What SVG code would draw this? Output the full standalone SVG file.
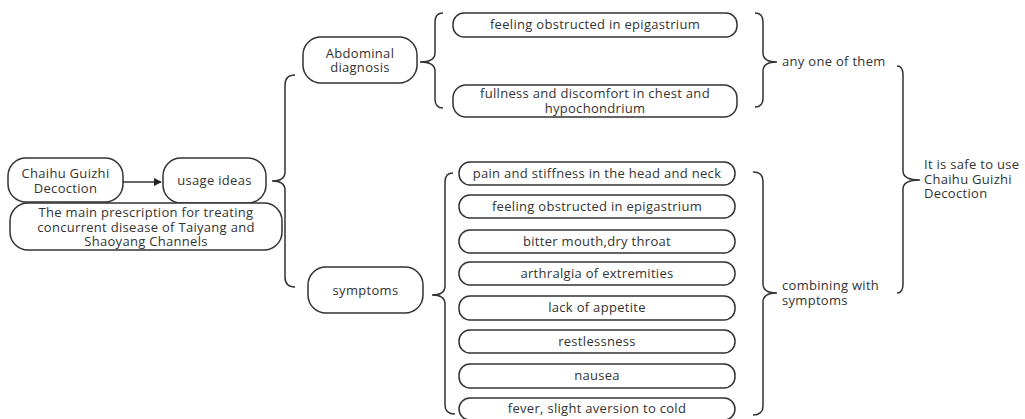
<svg xmlns="http://www.w3.org/2000/svg" width="1025" height="419" viewBox="0 0 1025 419">
<style>
.box{fill:#fff;stroke:#333;stroke-width:1.5}
.t{font-family:"Open Sans","Noto Sans",sans-serif;font-size:13px;letter-spacing:0.3px;fill:#333;text-anchor:middle}
.l{font-family:"Open Sans","Noto Sans",sans-serif;font-size:13px;letter-spacing:0.3px;fill:#333}
.br{fill:none;stroke:#333;stroke-width:1.5}
</style>
<defs>
<marker id="ah" viewBox="0 0 10 10" refX="9" refY="5" markerWidth="8" markerHeight="8" markerUnits="userSpaceOnUse" orient="auto">
<path d="M0,0 L10,5 L0,10 z" fill="#222"/>
</marker>
</defs>
<rect width="1025" height="419" fill="#fff"/>
<g id="connectors">
<line x1="123" y1="182" x2="161" y2="182" stroke="#333" stroke-width="1.5" marker-end="url(#ah)"/>
<path class="br" d="M295,75 Q285,75 285,85 L285,172 Q285,181 272,181 Q285,181 285,190 L285,277 Q285,287 295,287"/>
<path class="br" d="M443,13 Q435,13 435,22 L435,53 Q435,62 420,62 Q435,62 435,71 L435,99 Q435,108 443,108"/>
<path class="br" d="M453,173 Q445,173 445,182 L445,286 Q445,295 432,295 Q445,295 445,304 L445,405 Q445,414 455,414"/>
<path class="br" d="M755,13 Q763,13 763,22 L763,53 Q763,62 777,62 Q763,62 763,71 L763,98 Q763,107 755,107"/>
<path class="br" d="M753,172 Q763,172 763,181 L763,284 Q763,293 777,293 Q763,293 763,302 L763,406 Q763,415 753,415"/>
<path class="br" d="M897,66 Q903,66 903,75 L903,171 Q903,180 920,180 Q903,180 903,189 L903,284 Q903,293 897,293"/>
</g>
<g id="n-chaihu">
<rect class="box" x="8" y="158" width="115" height="44" rx="18"/>
<text class="t" x="65.5" y="178">Chaihu Guizhi</text>
<text class="t" x="65.5" y="193">Decoction</text>
</g>
<g id="n-usage">
<rect class="box" x="163" y="158" width="103" height="45" rx="18"/>
<text class="t" x="214.5" y="185">usage ideas</text>
</g>
<g id="n-main">
<rect class="box" x="10" y="203" width="272" height="47" rx="18"/>
<text class="t" x="146" y="217">The main prescription for treating</text>
<text class="t" x="146" y="231.5">concurrent disease of Taiyang and</text>
<text class="t" x="146" y="246">Shaoyang Channels</text>
</g>
<g id="n-abdominal">
<rect class="box" x="303" y="37" width="114" height="46" rx="18"/>
<text class="t" x="360" y="57.5">Abdominal</text>
<text class="t" x="360" y="72">diagnosis</text>
</g>
<g id="n-symptoms">
<rect class="box" x="308" y="267" width="115" height="46" rx="18"/>
<text class="t" x="365.5" y="295">symptoms</text>
</g>
<g id="n-a1">
<rect class="box" x="453" y="13" width="284" height="24" rx="11"/>
<text class="t" x="595" y="29">feeling obstructed in epigastrium</text>
</g>
<g id="n-a2">
<rect class="box" x="453" y="85" width="284" height="32" rx="13"/>
<text class="t" x="595" y="98">fullness  and discomfort in chest and</text>
<text class="t" x="595" y="112.5">hypochondrium</text>
</g>
<g id="n-s1">
<rect class="box" x="459" y="162" width="276" height="23" rx="11"/>
<text class="t" x="597" y="178">pain and stiffness in the head and neck</text>
</g>
<g id="n-s2">
<rect class="box" x="459" y="195" width="276" height="23" rx="11"/>
<text class="t" x="597" y="211">feeling obstructed in epigastrium</text>
</g>
<g id="n-s3">
<rect class="box" x="459" y="230" width="276" height="23" rx="11"/>
<text class="t" x="597" y="246">bitter mouth,dry throat</text>
</g>
<g id="n-s4">
<rect class="box" x="459" y="262" width="276" height="23" rx="11"/>
<text class="t" x="597" y="278">arthralgia of extremities</text>
</g>
<g id="n-s5">
<rect class="box" x="459" y="296" width="276" height="24" rx="11"/>
<text class="t" x="597" y="312">lack of appetite</text>
</g>
<g id="n-s6">
<rect class="box" x="459" y="330" width="276" height="23" rx="11"/>
<text class="t" x="597" y="346">restlessness</text>
</g>
<g id="n-s7">
<rect class="box" x="459" y="364" width="276" height="24" rx="11"/>
<text class="t" x="597" y="380">nausea</text>
</g>
<g id="n-s8">
<rect class="box" x="459" y="398" width="276" height="22" rx="11"/>
<text class="t" x="597" y="413">fever, slight aversion to cold</text>
</g>
<g id="n-any">
<text class="l" x="782" y="66">any one of them</text>
</g>
<g id="n-combining">
<text class="l" x="782" y="290">combining with</text>
<text class="l" x="782" y="305">symptoms</text>
</g>
<g id="n-safe">
<text class="l" x="924" y="169">It is safe to use</text>
<text class="l" x="924" y="184">Chaihu Guizhi</text>
<text class="l" x="924" y="198">Decoction</text>
</g>
</svg>
